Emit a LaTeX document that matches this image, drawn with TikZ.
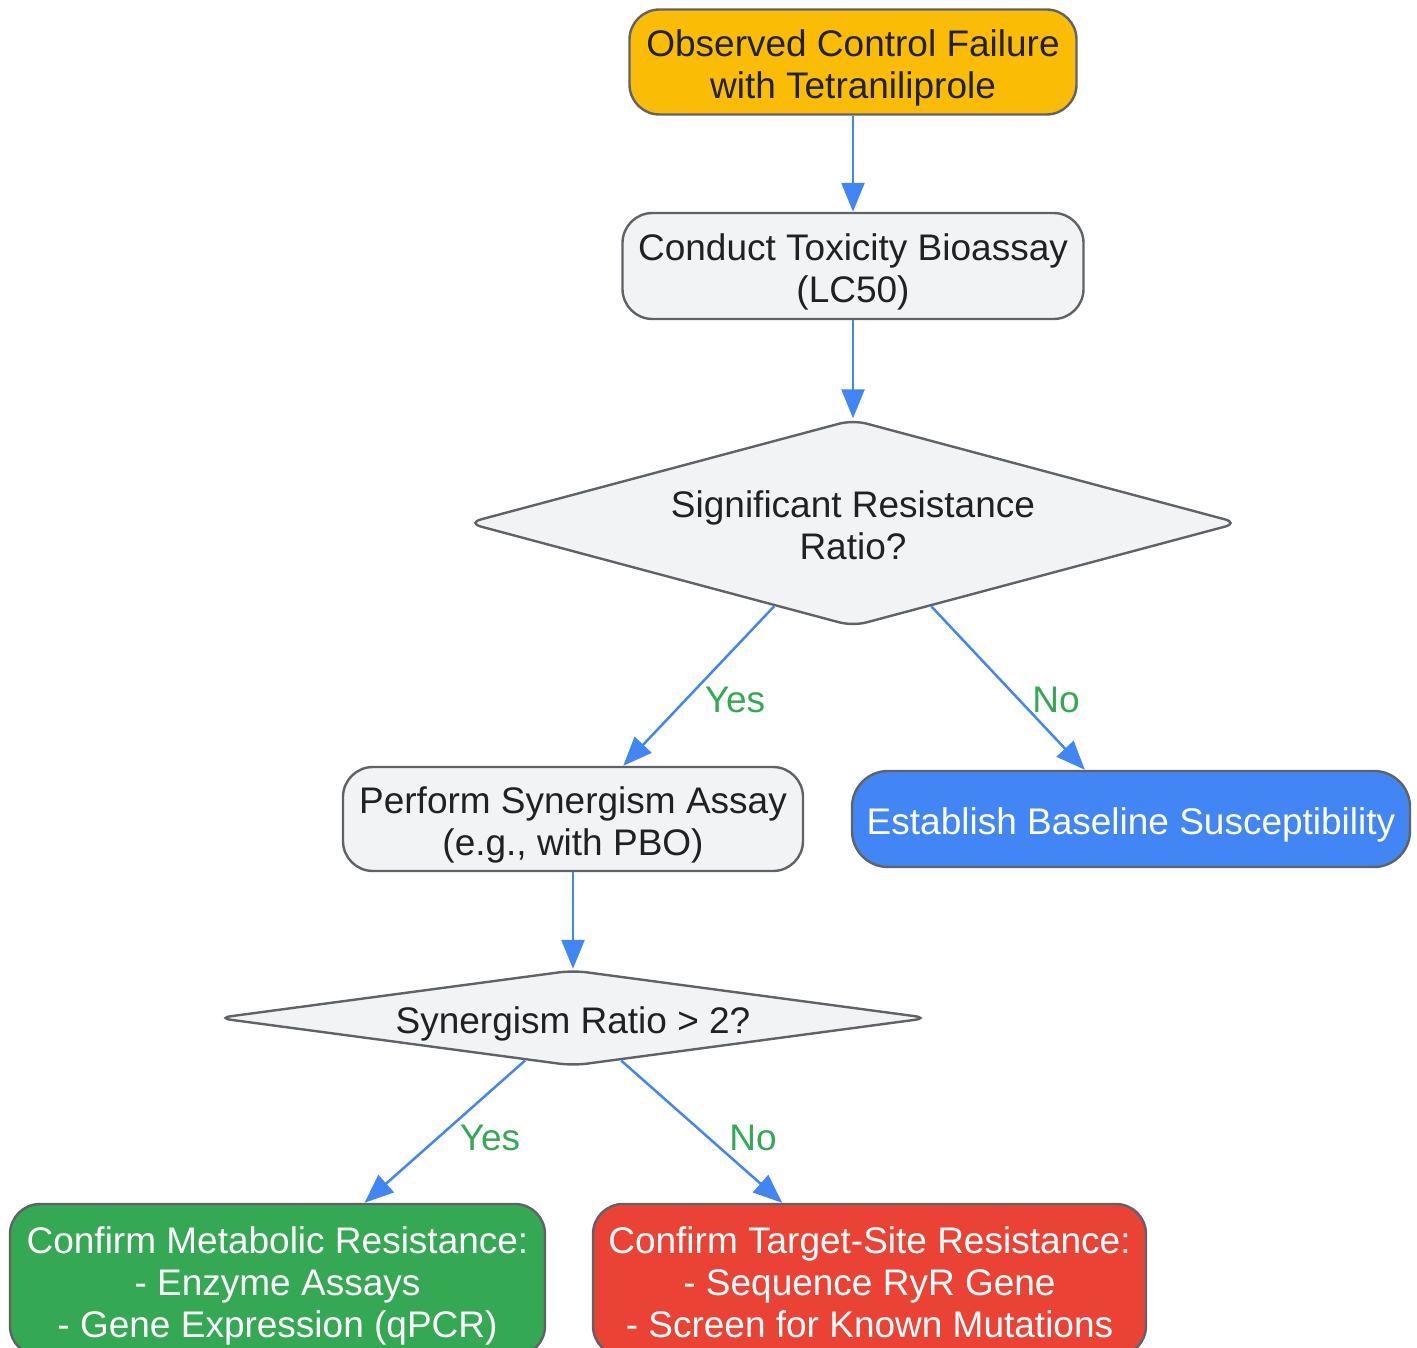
\documentclass[tikz,border=0pt]{standalone}
\usepackage{fontspec}
\setmainfont{Liberation Sans}
\usepackage{xcolor}
\usepackage{tikz}
\usetikzlibrary{shapes.geometric,arrows.meta,positioning}
\definecolor{amber}{HTML}{FBBC05}
\definecolor{paper}{HTML}{F1F3F4}
\definecolor{gblue}{HTML}{4285F4}
\definecolor{ggreen}{HTML}{34A853}
\definecolor{gred}{HTML}{EA4335}
\definecolor{rim}{HTML}{5F6368}
\definecolor{ink}{HTML}{202124}

\begin{document}
\begin{tikzpicture}[x=1pt,y=-1pt,
	box/.style={draw=rim,line width=2.4pt,rounded corners=30pt,fill=paper,text=ink,align=center,inner sep=0pt,font=\fontsize{37}{42}\selectfont},
	decision/.style={diamond,draw=rim,line width=2.4pt,rounded corners=14pt,fill=paper,text=ink,align=center,inner sep=0pt,font=\fontsize{37}{42}\selectfont},
	one/.style={text height=39.5pt,text depth=8.5pt},
	two/.style={text height=81.5pt,text depth=8.5pt},
	three/.style={text height=123.5pt,text depth=8.5pt},
	flow/.style={draw=gblue,line width=2.5pt,-{Triangle[length=29pt,width=23pt]}},
	lbl/.style={text=ggreen,font=\fontsize{37}{42}\selectfont}]
	\useasboundingbox (0,0) rectangle (1417,1348);
	\node[box,two,fill=amber,minimum width=447pt,minimum height=105pt] (fail) at (853,62) {Observed Control Failure\\with Tetraniliprole};
	\node[box,two,minimum width=461pt,minimum height=106pt] (bio) at (853,266) {Conduct Toxicity Bioassay\\(LC50)};
	\node[decision,two,aspect=3.7,minimum width=772pt,minimum height=207pt] (ratio) at (853,523) {Significant Resistance\\Ratio?};
	\node[box,two,minimum width=460pt,minimum height=104pt] (syn) at (573,819) {Perform Synergism Assay\\(e.g., with PBO)};
	\node[box,one,fill=gblue,text=white,rounded corners=36pt,minimum width=558pt,minimum height=96pt] (base) at (1131,819) {Establish Baseline Susceptibility};
	\node[decision,one,aspect=7.4,minimum width=712pt,minimum height=96pt] (sr) at (573,1018) {Synergism Ratio > 2?};
	\node[box,three,fill=ggreen,text=white,minimum width=535pt,minimum height=152pt] (meta) at (277.5,1280) {Confirm Metabolic Resistance:\\- Enzyme Assays\\- Gene Expression (qPCR)};
	\node[box,three,fill=gred,text=white,minimum width=553pt,minimum height=152pt] (site) at (869.5,1280) {Confirm Target-Site Resistance:\\- Sequence RyR Gene\\- Screen for Known Mutations};
	\draw[flow] (fail) -- (bio);
	\draw[flow] (bio) -- (ratio);
	\draw[flow] (ratio) -- (syn);
	\draw[flow] (ratio) -- (base);
	\draw[flow] (syn) -- (sr);
	\draw[flow] (sr) -- (meta);
	\draw[flow] (sr) -- (site);
	\node[lbl] (yes1) at (735,700) {Yes};
	\node[lbl] (no1) at (1056,700) {No};
	\node[lbl] (yes2) at (490,1138) {Yes};
	\node[lbl] (no2) at (753,1138) {No};
\end{tikzpicture}
\end{document}
